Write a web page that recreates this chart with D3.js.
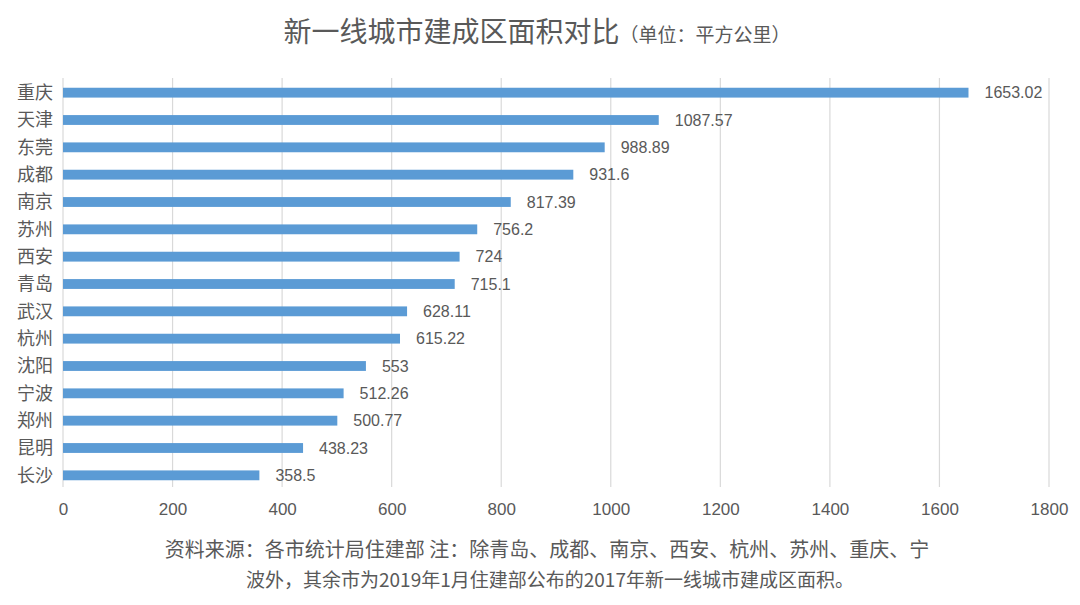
<!DOCTYPE html>
<html><head><meta charset="utf-8">
<script src="https://cdn.jsdelivr.net/npm/d3@7"></script>
<style>
html,body{margin:0;padding:0;background:#fff;}
svg{display:block;}
</style></head>
<body>
<script>
const cities = ["重庆","天津","东莞","成都","南京","苏州","西安","青岛","武汉","杭州","沈阳","宁波","郑州","昆明","长沙"];
const areas = [1653.02,1087.57,988.89,931.6,817.39,756.2,724,715.1,628.11,615.22,553,512.26,500.77,438.23,358.5];
const areaLabels = ["1653.02","1087.57","988.89","931.6","817.39","756.2","724","715.1","628.11","615.22","553","512.26","500.77","438.23","358.5"];
const xTicks = [0,200,400,600,800,1000,1200,1400,1600,1800];
const titleMain = "新一线城市建成区面积对比";
const titleUnit = "（单位：平方公里）";
const noteLines = ["资料来源：各市统计局住建部 注：除青岛、成都、南京、西安、杭州、苏州、重庆、宁","波外，其余市为2019年1月住建部公布的2017年新一线城市建成区面积。"];

const W = 1080, H = 605;
const cjk = "'Noto Sans CJK SC','Noto Sans',sans-serif";
const num = "'Liberation Sans',Arial,sans-serif";
const textColor = "#595959";

const svg = d3.select("body").append("svg").attr("width", W).attr("height", H);
svg.append("rect").attr("width", W).attr("height", H).attr("fill", "#fff");

const x = d3.scaleLinear().domain([0, 1800]).range([63, 1049]);
const y = d3.scaleBand().domain(cities).range([79, 489]).paddingInner(0.64).paddingOuter(0.32);

// gridlines
svg.append("g").selectAll("line").data(xTicks).join("line")
  .attr("x1", d => x(d)).attr("x2", d => x(d))
  .attr("y1", 78).attr("y2", 487)
  .attr("stroke", "#d9d9d9").attr("stroke-width", 1.2);

// bars
svg.append("g").selectAll("rect").data(cities).join("rect")
  .attr("x", x(0)).attr("y", (d) => y(d))
  .attr("width", (d, i) => x(areas[i]) - x(0))
  .attr("height", y.bandwidth())
  .attr("fill", "#5b9bd5");

// value labels
svg.append("g").selectAll("text").data(cities).join("text")
  .attr("x", (d, i) => x(areas[i]) + 16)
  .attr("y", d => y(d) + y.bandwidth() / 2)
  .attr("dy", "0.36em")
  .attr("font-family", num).attr("font-size", 16).attr("fill", textColor)
  .text((d, i) => areaLabels[i]);

// category axis labels
svg.append("g").selectAll("text").data(cities).join("text")
  .attr("x", 53)
  .attr("y", d => y(d) + y.bandwidth() / 2)
  .attr("dy", "0.36em")
  .attr("text-anchor", "end")
  .attr("font-family", cjk).attr("font-size", 18).attr("fill", textColor)
  .text(d => d);

// x axis tick labels
const xAxis = d3.axisBottom(x).tickValues(xTicks).tickSize(0).tickPadding(0).tickFormat(d3.format("d"));
const gx = svg.append("g").attr("transform", "translate(0,505)").call(xAxis);
gx.select(".domain").remove();
gx.selectAll("text").attr("font-family", num).attr("font-size", 17).attr("fill", textColor).attr("dy", "0.6em");

// title
const t = svg.append("text").attr("x", 537).attr("y", 42).attr("text-anchor", "middle").attr("fill", textColor);
t.append("tspan").attr("font-family", cjk).attr("font-size", 28).text(titleMain);
t.append("tspan").attr("font-family", cjk).attr("font-size", 19).text(titleUnit);

// note
svg.append("g").selectAll("text").data(noteLines).join("text")
  .attr("x", (d, i) => i === 0 ? 547 : 550)
  .attr("y", (d, i) => i === 0 ? 557 : 587)
  .attr("text-anchor", "middle")
  .attr("font-family", cjk).attr("font-size", (d, i) => i === 0 ? 20 : 19).attr("fill", textColor)
  .text(d => d);
</script>
</body></html>
